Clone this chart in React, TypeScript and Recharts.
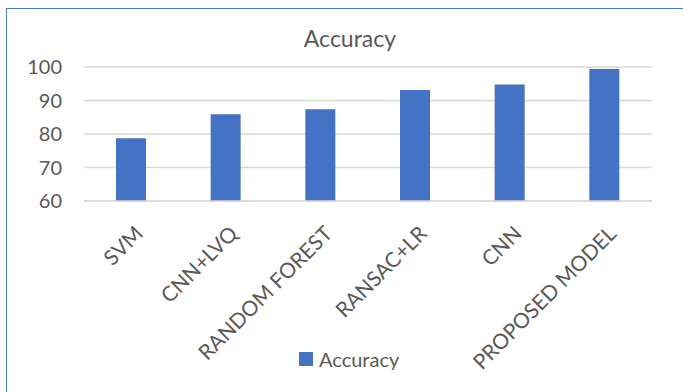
import { BarChart, Bar, XAxis, YAxis, CartesianGrid, Legend } from "recharts";

// values
const models = ["SVM", "CNN+LVQ", "RANDOM FOREST", "RANSAC+LR", "CNN", "PROPOSED MODEL"];
const accuracy = [78.7, 85.9, 87.4, 93.1, 94.8, 99.4];
const yTicks = [60, 70, 80, 90, 100];

const BAR_COLOR = "#4472c4";
const TEXT_COLOR = "#595959";
const GRID_COLOR = "#d9d9d9";
const FONT = "Lato, 'Open Sans', sans-serif";

const chartData = models.map((name, i) => ({ name, accuracy: accuracy[i] }));

function SlantedTick({ x, y, payload }: any) {
  const ax = x + 13;
  const ay = y + 34;
  return (
    <text
      x={ax}
      y={ay}
      transform={`rotate(-45, ${ax}, ${ay})`}
      textAnchor="end"
      fill={TEXT_COLOR}
      fontSize={21}
      fontFamily={FONT}
    >
      {payload.value}
    </text>
  );
}

function LegendBox() {
  return (
    <div style={{ display: "flex", alignItems: "center", fontFamily: FONT, fontSize: 20, color: TEXT_COLOR }}>
      <span style={{ display: "inline-block", width: 14, height: 14, background: BAR_COLOR, marginRight: 6 }} />
      <span>Accuracy</span>
    </div>
  );
}

export default function App() {
  return (
    <div style={{ position: "fixed", left: 0, top: 0, width: 683, height: 392, overflow: "hidden", background: "#fff" }}>
      {/* outer frame, cut off at the right and bottom like the screenshot */}
      <div
        style={{
          position: "absolute",
          left: 6,
          top: 8,
          width: 700,
          height: 420,
          border: "1.5px solid #4a78cc",
          boxSizing: "border-box",
        }}
      />
      <div
        style={{
          position: "absolute",
          left: 0,
          top: 24,
          width: 700,
          textAlign: "center",
          fontFamily: FONT,
          fontSize: 23,
          color: TEXT_COLOR,
        }}
      >
        Accuracy
      </div>
      <div style={{ position: "absolute", left: 0, top: 0 }}>
        <BarChart width={683} height={392} data={chartData} margin={{ top: 67, right: 31, left: 24, bottom: 0 }}>
          <CartesianGrid vertical={false} stroke={GRID_COLOR} strokeWidth={1.5} />
          <XAxis
            dataKey="name"
            height={191}
            interval={0}
            tickSize={0}
            tickMargin={0}
            axisLine={{ stroke: GRID_COLOR, strokeWidth: 1.5 }}
            tickLine={false}
            tick={<SlantedTick />}
          />
          <YAxis
            width={60}
            domain={[60, 100]}
            ticks={yTicks}
            tickSize={0}
            tickMargin={22}
            axisLine={false}
            tickLine={false}
            tick={{ fill: TEXT_COLOR, fontSize: 20, fontFamily: FONT }}
          />
          <Legend
            verticalAlign="middle"
            align="center"
            wrapperStyle={{ top: 347, left: 299, width: 130 }}
            content={<LegendBox />}
          />
          <Bar dataKey="accuracy" fill={BAR_COLOR} barSize={30} isAnimationActive={false} />
        </BarChart>
      </div>
    </div>
  );
}
